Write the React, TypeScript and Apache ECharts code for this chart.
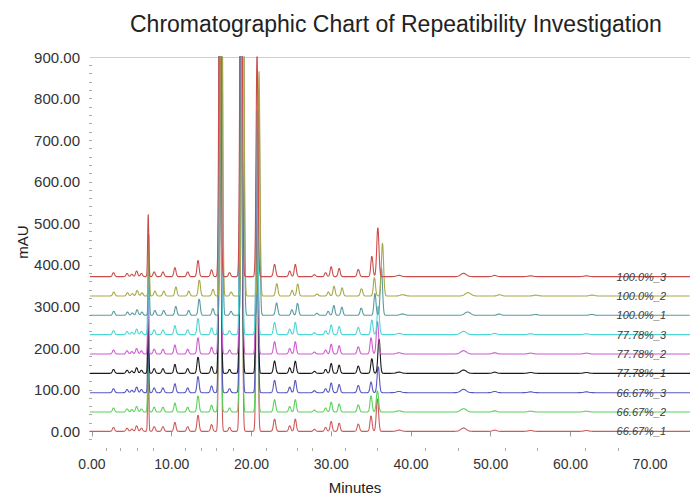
import React, { useEffect, useRef } from "react";
import * as echarts from "echarts";

// ---- Data ----
const seriesNames = ["66.67%_1", "66.67%_2", "66.67%_3", "77.78%_1", "77.78%_2", "77.78%_3", "100.0%_1", "100.0%_2", "100.0%_3"];
const seriesOffsets = [0, 46.5, 93, 139.5, 186, 232.5, 279, 325.5, 372];
const seriesColors = ["#cc5c5c", "#5ad25a", "#5858c4", "#1a1a1a", "#d05ad0", "#4ed6d6", "#5a9aa0", "#a8a84a", "#cc4c4c"];
const retentionDrift = [1, 1, 1, 1, 1, 1, 1.011, 1.012, 1];

// common peaks: retention time (min), height (mAU), sigma (min)
const peakTimes = [2.7, 4.4, 5.0, 5.6, 6.2, 7.05, 7.8, 8.9, 10.4, 12.0, 13.3, 15.0, 16.05, 17.25, 18.7, 20.7, 22.9, 24.8, 25.5, 27.9, 29.3, 30.0, 31.0, 33.4, 38.5, 46.6, 50.5, 55.0, 62.0];
const peakHeights = [10, 8, 6, 14, 8, 150, 12, 12, 22, 12, 40, 17, 1150, 10, 1250, 540, 30, 14, 30, 5, 10, 24, 20, 18, 3, 8, 3, 2, 2];
const peakWidths = [0.13, 0.13, 0.13, 0.13, 0.13, 0.07, 0.13, 0.13, 0.13, 0.13, 0.13, 0.13, 0.12, 0.13, 0.13, 0.12, 0.14, 0.13, 0.13, 0.14, 0.13, 0.13, 0.13, 0.14, 0.3, 0.35, 0.25, 0.3, 0.3];

// per-trace late peak pair (~35-36 min)
const lateATimes = [35.0, 35.0, 35.0, 35.1, 35.0, 35.1, 35.1, 35.0, 35.1];
const lateAHeights = [38, 40, 26, 36, 40, 36, 53, 45, 50];
const lateBTimes = [35.8, 35.8, 35.9, 36.0, 35.8, 35.9, 35.9, 36.0, 35.85];
const lateBHeights = [80, 52, 64, 84, 80, 70, 116, 127, 118];

const xLabelValues = [0, 10, 20, 30, 40, 50, 60, 70];
const xMinorTicks = [1.75, 3.6, 5.7, 7.7, 11.75, 13.7, 15.6, 17.7, 21.8, 25.75, 27.6, 31.8, 35.8, 41.8, 45.9, 51.8, 55.9, 61.8, 66];
const yLabelValues = [0, 100, 200, 300, 400, 500, 600, 700, 800, 900];
const yTickValues = [-20, 0, 20, 40, 60, 80, 100, 120, 140, 160, 180, 200, 220, 240, 260, 280, 300, 320, 340, 360, 380, 400, 420, 440, 460, 480, 500, 520, 540, 560, 580, 600, 620, 640, 660, 680, 700, 720, 740, 760, 780, 800, 820, 840, 860, 880];

const X_MIN = -0.25;
const X_MAX = 75;
const STEP = 0.025;

function buildTrace(i: number): number[][] {
  const times = peakTimes.concat([lateATimes[i], lateBTimes[i]]).map((t) => t * retentionDrift[i]);
  const heights = peakHeights.concat([lateAHeights[i], lateBHeights[i]]);
  const widths = peakWidths.concat([0.13, 0.14]);
  const pts: number[][] = [];
  const n = Math.round((X_MAX - X_MIN) / STEP);
  for (let k = 0; k <= n; k++) {
    const x = X_MIN + k * STEP;
    let y = seriesOffsets[i];
    for (let p = 0; p < times.length; p++) {
      const d = (x - times[p]) / widths[p];
      if (d > -8 && d < 8) y += heights[p] * Math.exp(-0.5 * d * d);
    }
    pts.push([Number(x.toFixed(3)), y]);
  }
  return pts;
}

export default function App() {
  const ref = useRef<HTMLDivElement>(null);
  useEffect(() => {
    document.body.style.margin = "0";
    if (!ref.current) return;
    const chart = echarts.init(ref.current, null, { renderer: "svg" });
    const font = "'Liberation Sans', Arial, sans-serif";
    const series: any[] = seriesNames.map((name, i) => ({
      name,
      type: "line",
      data: buildTrace(i),
      xAxisIndex: 0,
      yAxisIndex: 0,
      showSymbol: false,
      symbol: "none",
      clip: true,
      lineStyle: { color: seriesColors[i], width: 1.1 },
      itemStyle: { color: seriesColors[i] },
      z: 2,
      markPoint: {
        symbol: "circle",
        symbolSize: 1,
        itemStyle: { color: "rgba(0,0,0,0)" },
        data: [
          {
            coord: [68.9, seriesOffsets[i]],
            label: {
              show: true,
              position: "inside",
              formatter: name,
              fontStyle: "italic",
              fontSize: 11,
              fontFamily: font,
              color: "#3a3a3a",
            },
          },
        ],
      },
    }));

    chart.setOption({
      animation: false,
      backgroundColor: "#ffffff",
      title: {
        text: "Chromatographic Chart of Repeatibility Investigation",
        left: 125,
        top: 7,
        textStyle: { fontSize: 23, fontWeight: "normal", color: "#222", fontFamily: font },
      },
      grid: { left: 90, top: 57, width: 602, height: 391 },
      xAxis: [
        {
          type: "value",
          min: X_MIN,
          max: X_MAX,
          position: "bottom",
          axisLine: { show: false },
          splitLine: { show: false },
          axisTick: { show: true, customValues: xLabelValues, length: 5, lineStyle: { color: "#999" } },
          axisLabel: {
            customValues: xLabelValues,
            formatter: (v: number) => v.toFixed(2),
            fontSize: 14,
            fontFamily: font,
            color: "#333",
            margin: 9,
          },
        },
        {
          type: "value",
          min: X_MIN,
          max: X_MAX,
          position: "bottom",
          axisLine: { show: false },
          splitLine: { show: false },
          axisTick: { show: true, customValues: xMinorTicks, length: 3, lineStyle: { color: "#aaa" } },
          axisLabel: { show: false },
        },
        {
          type: "value",
          min: X_MIN,
          max: X_MAX,
          position: "top",
          axisLine: { show: true, lineStyle: { color: "#cfcfcf", width: 1 } },
          splitLine: { show: false },
          axisTick: { show: false },
          axisLabel: { show: false },
        },
      ],
      yAxis: {
        type: "value",
        min: -40,
        max: 900,
        axisLine: { show: false },
        splitLine: { show: false },
        axisTick: { show: true, customValues: yTickValues, length: 3, lineStyle: { color: "#aaa" } },
        axisLabel: {
          customValues: yLabelValues,
          formatter: (v: number) => v.toFixed(2),
          fontSize: 15,
          fontFamily: font,
          color: "#333",
          margin: 10,
        },
      },
      graphic: [
        {
          type: "text",
          x: 22,
          y: 242,
          rotation: Math.PI / 2,
          style: { text: "mAU", fontSize: 15, fontFamily: font, fill: "#222", align: "center", verticalAlign: "middle" },
        },
        {
          type: "text",
          x: 355,
          y: 487,
          style: { text: "Minutes", fontSize: 15, fontFamily: font, fill: "#222", align: "center", verticalAlign: "middle" },
        },
      ],
      series,
    });
    return () => chart.dispose();
  }, []);
  return <div ref={ref} style={{ width: 690, height: 497 }} />;
}
